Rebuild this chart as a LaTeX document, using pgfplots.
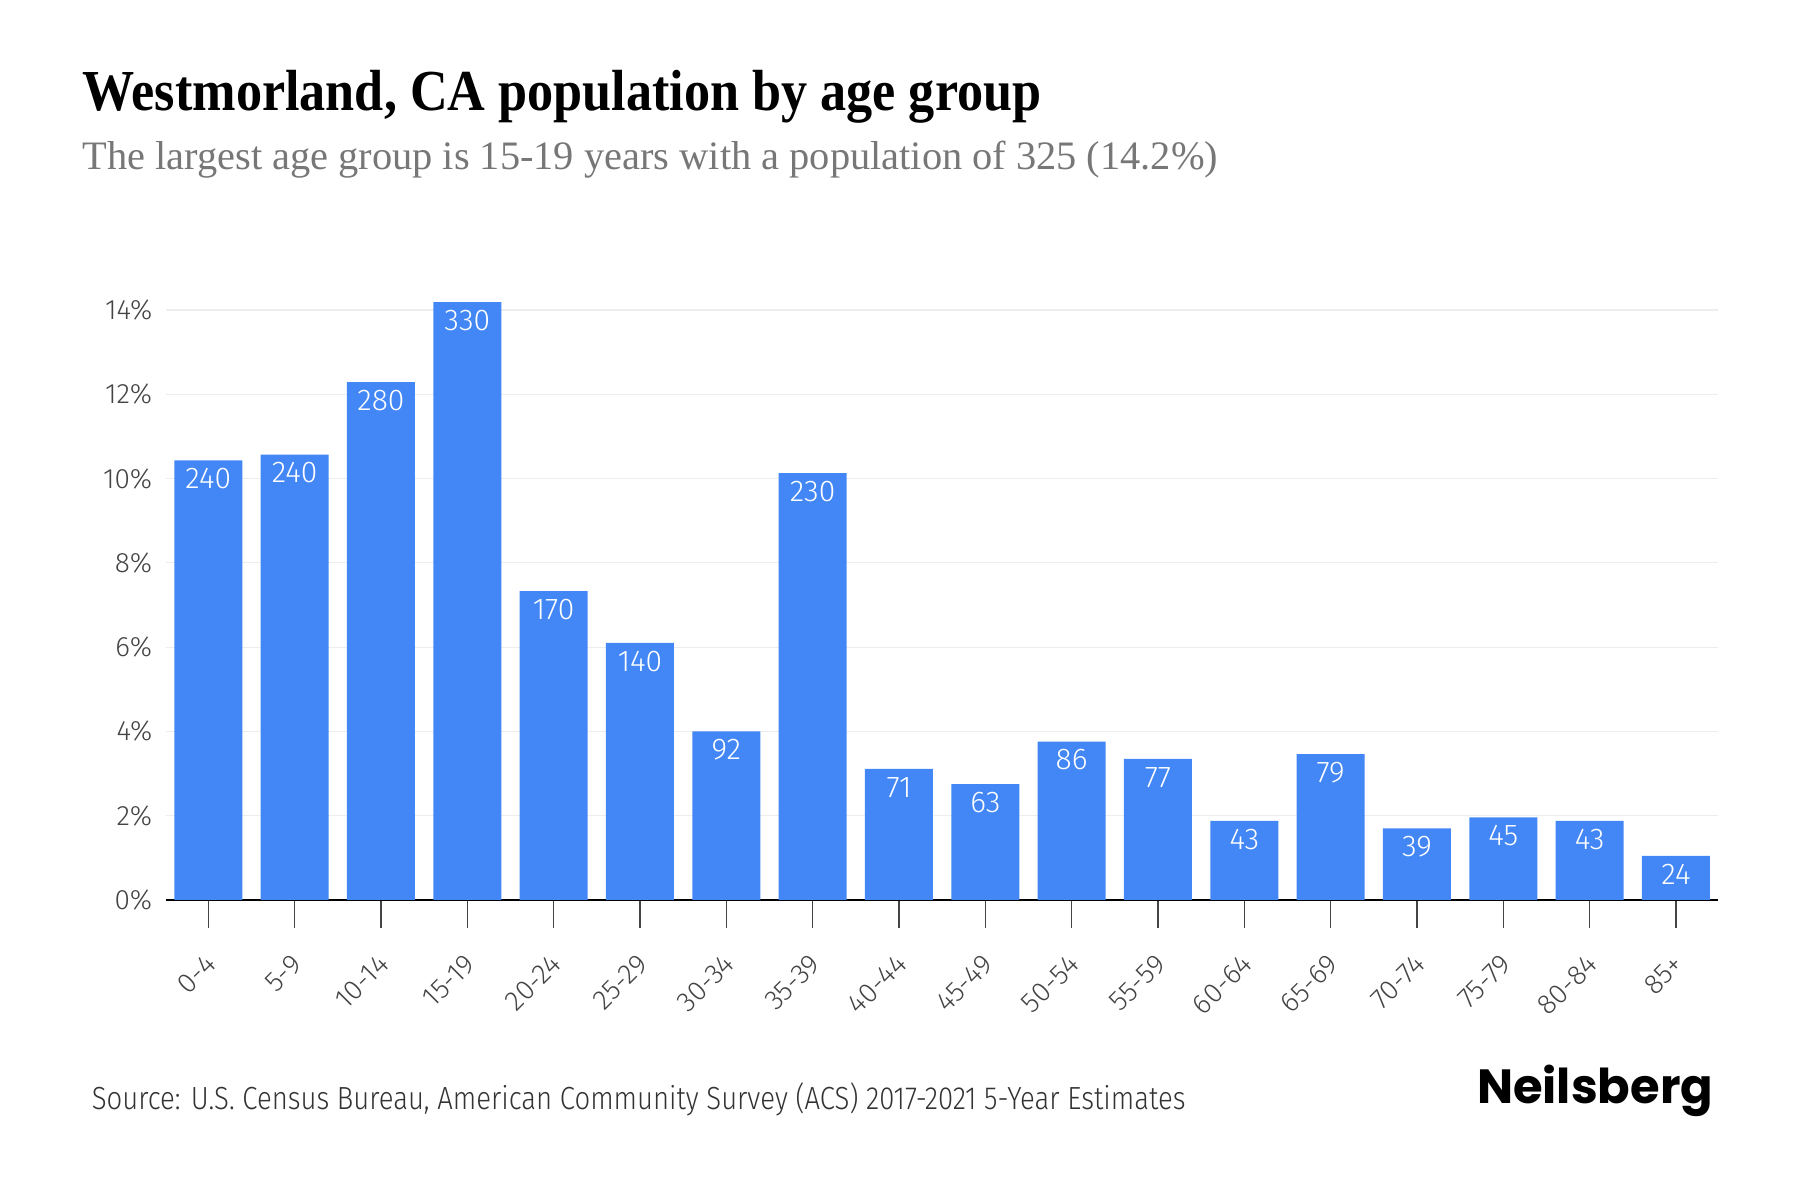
\documentclass[border=0pt]{standalone}
\usepackage{fontspec}
\usepackage{pgfplots}
\pgfplotsset{compat=1.18}
\setmainfont{Fira Sans Light}
\newfontfamily\lightfont{Fira Sans Light}
\newfontfamily\srcfont[FakeStretch=0.86]{Fira Sans Light}
\newfontfamily\titlefont[FakeStretch=0.9]{Liberation Serif}
\newfontfamily\subfont{Liberation Serif}
\newfontfamily\logofont{Poppins}
\definecolor{barblue}{HTML}{4287F5}
\definecolor{gridgray}{HTML}{EDEDED}
\definecolor{ticktext}{HTML}{444444}
\definecolor{subgray}{HTML}{777777}
\definecolor{srctext}{HTML}{333333}
\begin{document}
\begin{tikzpicture}
\path[use as bounding box] (0,0) rectangle (450pt,300pt);
% titles
\node[anchor=base west, inner sep=0pt, text=black] at (20.4pt,272.25pt)
  {\titlefont\bfseries\fontsize{14.5}{16}\selectfont Westmorland, CA population by age group};
\node[anchor=base west, inner sep=0pt, text=subgray] at (20.4pt,257.5pt)
  {\subfont\fontsize{10.1}{12}\selectfont The largest age group is 15-19 years with a population of 325 (14.2\%)};
% footer
\node[anchor=base west, inner sep=0pt, text=srctext] at (22.75pt,22.5pt)
  {\srcfont\fontsize{8}{10}\selectfont Source: U.S. Census Bureau, American Community Survey (ACS) 2017-2021 5-Year Estimates};
\node[anchor=base east, inner sep=0pt, text=black] at (428.5pt,24pt)
  {\logofont\bfseries\fontsize{12}{14}\selectfont Neilsberg};
\begin{axis}[
  at={(41.5pt,75pt)}, anchor=south west,
  scale only axis,
  width=388pt, height=152.75pt,
  xmin=-0.49, xmax=17.487,
  ymin=0, ymax=14.5,
  ybar, bar width=0.787, bar shift=0pt,
  axis x line*=bottom, axis y line*=left,
  y axis line style={draw=none},
  x axis line style={draw=black, line width=0.4pt},
  ytick={0,2,4,6,8,10,12,14},
  yticklabels={0\%,2\%,4\%,6\%,8\%,10\%,12\%,14\%},
  ytick style={draw=none},
  ymajorgrids,
  grid style={draw=gridgray, line width=0.3pt},
  xtick={0,...,17},
  xticklabels={0-4,5-9,10-14,15-19,20-24,25-29,30-34,35-39,40-44,45-49,50-54,55-59,60-64,65-69,70-74,75-79,80-84,85+},
  tick align=outside,
  major tick length=7pt,
  xtick style={draw=ticktext, line width=0.4pt},
  yticklabel style={font=\lightfont\fontsize{7}{7}\selectfont, text=ticktext, inner sep=0pt, xshift=3.75pt},
  xticklabel style={font=\lightfont\fontsize{7}{7}\selectfont, text=ticktext, rotate=45, anchor=east, inner sep=0pt, xshift=-4.9pt, yshift=-6.1pt},
  point meta=explicit symbolic,
  nodes near coords,
  every node near coord/.append style={font=\lightfont\fontsize{7.5}{7.5}\selectfont, text=white, anchor=center, yshift=-4.6pt},
]
\addplot[fill=barblue, draw=none] coordinates {
(0,10.43) [240]
(1,10.57) [240]
(2,12.29) [280]
(3,14.19) [330]
(4,7.33) [170]
(5,6.10) [140]
(6,4.00) [92]
(7,10.13) [230]
(8,3.11) [71]
(9,2.75) [63]
(10,3.76) [86]
(11,3.35) [77]
(12,1.88) [43]
(13,3.46) [79]
(14,1.70) [39]
(15,1.96) [45]
(16,1.88) [43]
(17,1.05) [24]
};
\end{axis}
\end{tikzpicture}
\end{document}
